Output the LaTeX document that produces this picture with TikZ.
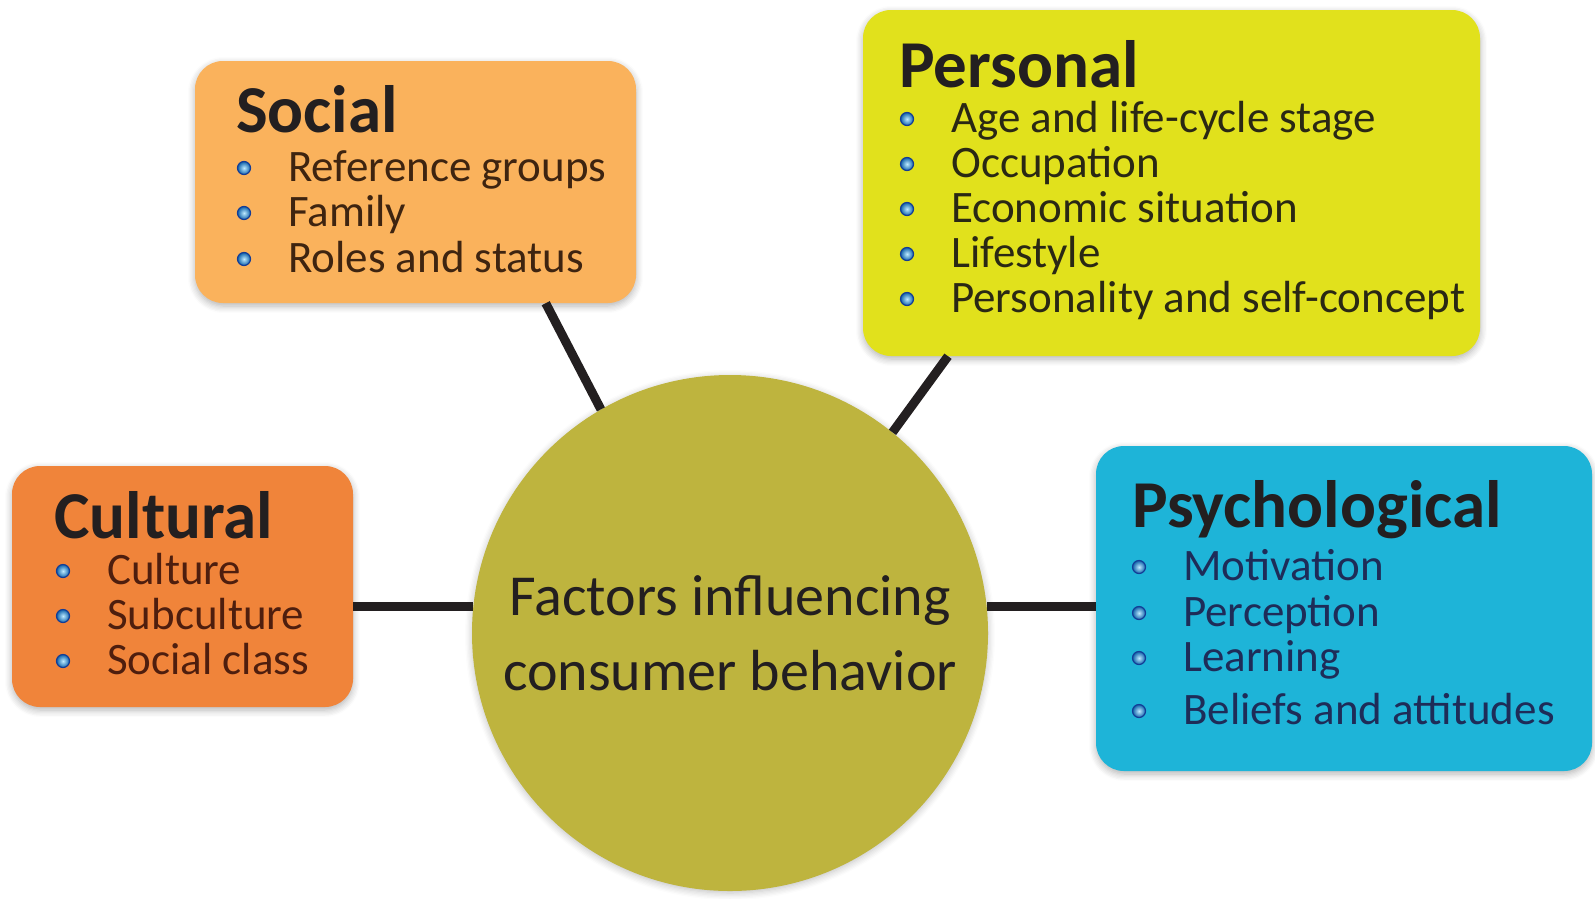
\documentclass[tikz,border=0pt]{standalone}
\usepackage{fontspec}
\setmainfont{Carlito}
\usetikzlibrary{calc,shadows.blur}
\definecolor{socialC}{RGB}{250,178,92}
\definecolor{personalC}{RGB}{225,225,28}
\definecolor{culturalC}{RGB}{240,132,58}
\definecolor{psychC}{RGB}{30,180,216}
\definecolor{circleC}{RGB}{190,180,62}
\definecolor{titleC}{RGB}{35,31,32}
\definecolor{linkC}{RGB}{35,31,32}
\definecolor{socTxt}{RGB}{62,36,16}
\definecolor{perTxt}{RGB}{42,40,20}
\definecolor{culTxt}{RGB}{78,30,14}
\definecolor{psyTxt}{RGB}{30,44,88}
\definecolor{dotOut}{RGB}{20,60,150}
\definecolor{dotIn}{RGB}{190,235,255}
\tikzset{
  box/.style={rectangle, rounded corners=28pt, inner sep=0pt,
    blur shadow={shadow blur steps=6, shadow xshift=0pt, shadow yshift=-3pt,
      shadow blur radius=7pt, shadow opacity=30}},
  titletext/.style={anchor=base west, inner sep=0pt,
    font=\fontsize{67}{80}\selectfont\bfseries, text=titleC},
  itemtext/.style={anchor=base west, inner sep=0pt,
    font=\fontsize{45}{54}\selectfont},
  bulletdot/.style={circle, inner sep=0pt, minimum size=13pt,
    draw=dotOut, line width=1.2pt,
    inner color=dotIn, outer color=dotOut!80!cyan},
  link/.style={line width=9pt, draw=linkC},
}
\newcommand\bitem[5]{%
  \node[bulletdot] (#1d) at ({#2},{#3-13}) {};
  \node[itemtext, text=#5] (#1) at ({#2+44},{#3}) {#4};}
\begin{document}
\begin{tikzpicture}[x=1pt,y=-1pt]
\useasboundingbox (0,0) rectangle (1595,898);
% boxes
\node[box, fill=socialC, minimum width=441pt, minimum height=242pt] (soc) at (415.5,182) {};
\node[box, fill=personalC, minimum width=617pt, minimum height=346pt] (per) at (1171.5,183) {};
\node[box, fill=culturalC, minimum width=341pt, minimum height=241pt] (cul) at (182.5,586.5) {};
\node[box, fill=psychC, minimum width=496pt, minimum height=325pt] (psy) at (1344,608.5) {};
% centre
\node[circle, fill=circleC, minimum size=516pt, inner sep=0pt, align=center,
  font=\fontsize{58}{75}\selectfont, text=titleC,
  blur shadow={shadow blur steps=6, shadow xshift=0pt, shadow yshift=-2pt, shadow blur radius=7pt, shadow opacity=25}]
  (circ) at (730,633) {Factors influencing\\consumer behavior};
% connectors
\draw[link] ($(soc.south)!0.59!(soc.south east)$) -- (circ.120);
\draw[link] ($(per.south)!0.724!(per.south west)$) -- (circ.51);
\draw[link] (circ.174) -- (circ.174 -| cul.east);
\draw[link] (circ.6) -- (circ.6 -| psy.west);
% Social
\node[titletext] (socT) at (236,132) {Social};
\bitem{soc1}{244}{181}{Reference groups}{socTxt}
\bitem{soc2}{244}{226}{Family}{socTxt}
\bitem{soc3}{244}{272}{Roles and status}{socTxt}
% Personal
\node[titletext] (perT) at (899,87) {Personal};
\bitem{per1}{907}{132}{Age and life-cycle stage}{perTxt}
\bitem{per2}{907}{177}{Occupation}{perTxt}
\bitem{per3}{907}{222}{Economic situation}{perTxt}
\bitem{per4}{907}{267}{Lifestyle}{perTxt}
\bitem{per5}{907}{312}{Personality and self-concept}{perTxt}
% Cultural
\node[titletext] (culT) at (54,538) {Cultural};
\bitem{cul1}{63}{584}{Culture}{culTxt}
\bitem{cul2}{63}{629}{Subculture}{culTxt}
\bitem{cul3}{63}{674}{Social class}{culTxt}
% Psychological
\node[titletext] (psyT) at (1132,527) {Psychological};
\bitem{psy1}{1139}{580}{Motivation}{psyTxt}
\bitem{psy2}{1139}{626}{Perception}{psyTxt}
\bitem{psy3}{1139}{671}{Learning}{psyTxt}
\bitem{psy4}{1139}{724}{Beliefs and attitudes}{psyTxt}
\end{tikzpicture}
\end{document}
